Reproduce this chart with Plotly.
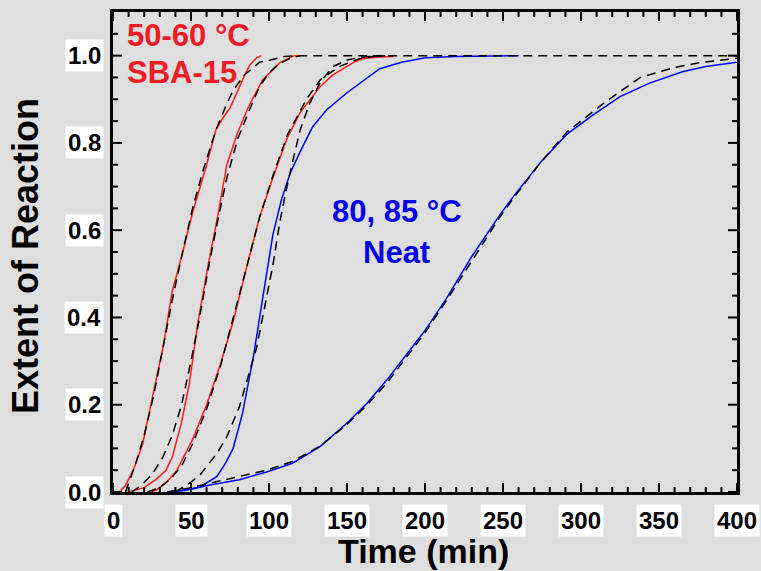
import plotly.graph_objects as go

# ---------------- data ----------------
# SBA-15, 50-60 °C (red data)
red1_t = [4, 8, 13, 19, 26, 32, 38, 44, 51, 60, 66, 71, 75, 81, 85, 88, 92, 95]
red1_y = [0, 0.015, 0.05, 0.11, 0.23, 0.33, 0.46, 0.54, 0.64, 0.75, 0.83, 0.86, 0.88, 0.93, 0.96, 0.98, 0.995, 1.0]

red2_t = [10, 20, 28, 34, 38, 44, 49, 54.5, 61, 67, 73, 79.5, 86.5, 96, 107, 113, 116, 120]
red2_y = [0, 0.01, 0.03, 0.05, 0.08, 0.16, 0.25, 0.39, 0.52, 0.63, 0.75, 0.82, 0.88, 0.945, 0.984, 0.995, 1.0, 1.0]

red3_t = [24, 28, 35, 41, 51, 60, 68.6, 77, 86, 94, 102.5, 111.5, 120, 133, 141, 154, 160, 170, 180]
red3_y = [0, 0.005, 0.025, 0.05, 0.12, 0.2, 0.29, 0.39, 0.52, 0.63, 0.72, 0.81, 0.87, 0.93, 0.956, 0.984, 0.993, 0.997, 0.998]

# Neat, 80 / 85 °C (blue data)
blue1_t = [35, 45, 56, 66.5, 72, 77, 83, 87, 90, 94, 98.5, 102.5, 108, 113.5, 120, 128, 137, 150, 171, 185, 200, 220, 260]
blue1_y = [0, 0.003, 0.012, 0.035, 0.065, 0.1, 0.18, 0.257, 0.31, 0.4, 0.5, 0.59, 0.67, 0.73, 0.78, 0.837, 0.876, 0.915, 0.97, 0.985, 0.995, 0.998, 1.0]

blue2_t = [35, 50, 62, 81, 98.5, 115, 132.7, 150, 163, 175.6, 200, 214, 230, 248, 256, 274, 291, 308, 325, 344, 365, 380, 400]
blue2_y = [0, 0.006, 0.016, 0.028, 0.046, 0.066, 0.104, 0.158, 0.204, 0.257, 0.37, 0.445, 0.54, 0.635, 0.674, 0.755, 0.82, 0.865, 0.906, 0.937, 0.963, 0.975, 0.985]

# model fits (black dashed)
fit1_t = [8, 11, 15, 20, 26, 32, 38, 44, 51, 58, 66, 73, 77, 84, 94, 101, 110, 120, 400]
fit1_y = [0, 0.03, 0.07, 0.13, 0.22, 0.33, 0.44, 0.54, 0.65, 0.74, 0.83, 0.89, 0.92, 0.955, 0.985, 0.99, 0.998, 1.0, 1.0]

fit2_t = [12, 18, 25, 32, 38, 44, 50, 55, 61, 67, 73, 80, 88, 94, 100, 106, 113, 120]
fit2_y = [0, 0.015, 0.04, 0.08, 0.13, 0.2, 0.3, 0.39, 0.51, 0.62, 0.72, 0.81, 0.88, 0.93, 0.96, 0.98, 0.993, 1.0]

fit3_t = [22, 30, 37, 44, 51, 60, 69, 78, 86, 94, 103, 112, 124, 133, 145, 158, 170]
fit3_y = [0, 0.01, 0.03, 0.06, 0.11, 0.19, 0.29, 0.41, 0.52, 0.63, 0.73, 0.82, 0.9, 0.945, 0.975, 0.993, 1.0]

fit4_t = [40, 49, 56, 62, 67, 73, 81, 86, 92, 97, 102.5, 107, 111.5, 116, 120, 126, 133, 141, 150, 160, 175]
fit4_y = [0, 0.02, 0.04, 0.066, 0.09, 0.127, 0.195, 0.257, 0.33, 0.42, 0.52, 0.62, 0.7, 0.77, 0.83, 0.89, 0.94, 0.975, 0.99, 0.997, 1.0]

fit5_t = [35, 50, 62, 81, 98.5, 115, 132.7, 150, 163, 175.6, 200, 214, 230, 248, 256, 274, 291, 316, 338, 359, 376, 389, 400]
fit5_y = [0, 0.01, 0.02, 0.035, 0.05, 0.07, 0.105, 0.155, 0.2, 0.25, 0.365, 0.44, 0.53, 0.63, 0.67, 0.755, 0.825, 0.895, 0.95, 0.972, 0.984, 0.99, 0.994]

# axes
x_range = [0, 400]
y_range = [0, 1.1]
x_ticks = [0, 50, 100, 150, 200, 250, 300, 350, 400]
x_minor = [10, 20, 30, 40, 60, 70, 80, 90, 110, 120, 130, 140, 160, 170, 180, 190,
           210, 220, 230, 240, 260, 270, 280, 290, 310, 320, 330, 340, 360, 370, 380, 390]
y_ticks = [0.0, 0.2, 0.4, 0.6, 0.8, 1.0]
y_minor = [0.05, 0.1, 0.15, 0.25, 0.3, 0.35, 0.45, 0.5, 0.55, 0.65, 0.7, 0.75,
           0.85, 0.9, 0.95, 1.05]

# ---------------- styling ----------------
BG = "#dedede"
RED = "#ff1a1a"
BLUE = "#0000ff"
FONT = "Liberation Sans, Arial, Helvetica, sans-serif"
MAJOR_LEN, MINOR_LEN = 9, 5

fig = go.Figure()
for t, y in [(red1_t, red1_y), (red2_t, red2_y), (red3_t, red3_y)]:
    fig.add_trace(go.Scatter(x=t, y=y, mode="lines", line=dict(color=RED, width=1.5)))
for t, y in [(blue1_t, blue1_y), (blue2_t, blue2_y)]:
    fig.add_trace(go.Scatter(x=t, y=y, mode="lines", line=dict(color=BLUE, width=1.5)))
for t, y in [(fit1_t, fit1_y), (fit2_t, fit2_y), (fit3_t, fit3_y), (fit4_t, fit4_y), (fit5_t, fit5_y)]:
    fig.add_trace(go.Scatter(x=t, y=y, mode="lines",
                             line=dict(color="black", width=1.5, dash="9px,6px")))

# inward tick marks on all four sides, as pixel-sized shapes anchored at the frame
shapes = []
tick_line = dict(color="black", width=2)
for vals, ln in [(x_ticks, MAJOR_LEN), (x_minor, MINOR_LEN)]:
    for v in vals:
        shapes.append(dict(type="line", xref="x", yref="paper", ysizemode="pixel", yanchor=0,
                           x0=v, x1=v, y0=0, y1=ln, line=tick_line, layer="above"))
        shapes.append(dict(type="line", xref="x", yref="paper", ysizemode="pixel", yanchor=1,
                           x0=v, x1=v, y0=0, y1=-ln, line=tick_line, layer="above"))
for vals, ln in [(y_ticks, MAJOR_LEN), (y_minor, MINOR_LEN)]:
    for v in vals:
        shapes.append(dict(type="line", xref="paper", yref="y", xsizemode="pixel", xanchor=0,
                           x0=0, x1=ln, y0=v, y1=v, line=tick_line, layer="above"))
        shapes.append(dict(type="line", xref="paper", yref="y", xsizemode="pixel", xanchor=1,
                           x0=0, x1=-ln, y0=v, y1=v, line=tick_line, layer="above"))

axis_common = dict(
    showgrid=False, zeroline=False, showline=True, linecolor="black", linewidth=3,
    mirror=True, ticks="", showticklabels=False,
)
fig.update_layout(
    template="none",
    xaxis=dict(range=x_range, **axis_common),
    yaxis=dict(range=y_range, **axis_common),
)

annotations = []
for v in x_ticks:
    annotations.append(dict(x=v, y=0, xref="x", yref="paper", text=str(v), showarrow=False,
                            xanchor="center", yanchor="top", yshift=-12, bgcolor="white", borderpad=2,
                            font=dict(family=FONT, size=24, color="black", weight="bold")))
for v in y_ticks:
    annotations.append(dict(x=0, y=v, xref="paper", yref="y", text=f"{v:.1f}", showarrow=False,
                            xanchor="right", yanchor="middle", xshift=-9, bgcolor="white", borderpad=2,
                            font=dict(family=FONT, size=24, color="black", weight="bold")))

annotations += [
    dict(x=0.497, y=0, xref="paper", yref="paper", text="Time (min)", showarrow=False,
         xanchor="center", yanchor="bottom", yshift=-80,
         font=dict(family=FONT, size=34, color="black", weight="bold")),
    dict(x=0, y=0.4917, xref="paper", yref="paper", text="Extent of Reaction", showarrow=False,
         textangle=-90, xanchor="center", yanchor="middle", xshift=-87,
         font=dict(family=FONT, size=36, color="black", weight="bold")),
    dict(x=7.7, y=1.046, xref="x", yref="y", text="50-60 °C", showarrow=False,
         xanchor="left", yanchor="middle",
         font=dict(family=FONT, size=31, color="#ee1c25", weight="bold")),
    dict(x=7.7, y=0.961, xref="x", yref="y", text="SBA-15", showarrow=False,
         xanchor="left", yanchor="middle",
         font=dict(family=FONT, size=31, color="#ee1c25", weight="bold")),
    dict(x=182, y=0.642, xref="x", yref="y", text="80, 85 °C", showarrow=False,
         xanchor="center", yanchor="middle",
         font=dict(family=FONT, size=31, color="#0000ee", weight="bold")),
    dict(x=182, y=0.55, xref="x", yref="y", text="Neat", showarrow=False,
         xanchor="center", yanchor="middle",
         font=dict(family=FONT, size=31, color="#0000ee", weight="bold")),
]

fig.update_layout(
    width=761, height=571,
    margin=dict(l=113, r=24, t=12, b=79),
    paper_bgcolor=BG, plot_bgcolor=BG,
    showlegend=False,
    annotations=annotations,
    shapes=shapes,
)

fig.write_html("out.html")
